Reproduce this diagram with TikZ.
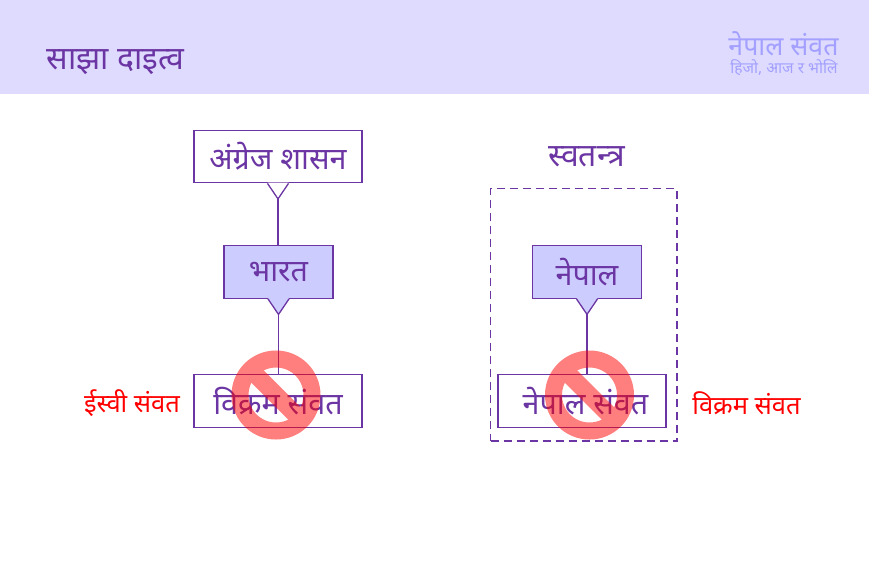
\documentclass[tikz,border=0pt]{standalone}
\usepackage{fontspec}
\newfontfamily\devfont[Script=Devanagari]{Noto Sans}
\definecolor{headbg}{HTML}{DEDBFF}
\definecolor{boxbg}{HTML}{CCCCFF}
\definecolor{inkpurple}{HTML}{6B35A3}
\definecolor{softblue}{HTML}{A3A0FF}
\tikzset{
  box/.style={draw=inkpurple, line width=1.3pt, minimum width=168pt, minimum height=52.5pt, inner sep=0pt, text=inkpurple, font=\devfont\fontsize{30.5}{30.5}\selectfont},
  smallbox/.style={box, fill=boxbg, minimum width=109pt},
  wire/.style={draw=inkpurple, line width=1.3pt},
  sidetext/.style={text=red, inner sep=0pt, font=\devfont\fontsize{25.5}{25.5}\selectfont},
  pics/nosign/.style={code={
    \begin{scope}[transparency group, opacity=.5]
      \draw[red, line width=17pt] (0,0) circle (36pt);
      \draw[red, line width=17.5pt] (-26,-26) -- (26,26);
    \end{scope}
  }}
}
\newcommand{\tail}[3]{% node, fill, apex name
  \coordinate (#3) at ([yshift=-15.5pt]#1.south);
  \fill[#2] ([xshift=-10.5pt,yshift=.8pt]#1.south) -- (#3) -- ([xshift=10.5pt,yshift=.8pt]#1.south) -- cycle;
  \draw[wire] ([xshift=-10.5pt]#1.south) -- (#3) -- ([xshift=10.5pt]#1.south);
}
\begin{document}
\begin{tikzpicture}[x=1pt,y=-1pt]
  \useasboundingbox (0,0) rectangle (869,579);
  \fill[white] (0,0) rectangle (869,579);
  \fill[headbg] (0,0) rectangle (869,94);

  \node (title) at (115.5,62) [text=inkpurple, inner sep=0pt, font=\devfont\fontsize{32}{32}\selectfont] {साझा दाइत्व};
  \node (brand) at (783.5,44) [text=softblue, inner sep=0pt, font=\devfont\fontsize{26.7}{26.7}\selectfont] {नेपाल संवत};
  \node (tagline) at (784,68) [text=softblue, inner sep=0pt, font=\devfont\fontsize{15.5}{15.5}\selectfont] {हिजो, आज र भोलि};

  % left column
  \node[box] (shasan) at (278,156.5) {अंग्रेज शासन};
  \node[smallbox] (bharat) at (278.5,272) {भारत\hspace{4pt}};
  \node[box] (bikram) at (278,401) {विक्रम संवत};
  \tail{shasan}{white}{shasantip}
  \tail{bharat}{boxbg}{bharattip}
  \draw[wire] (shasantip) -- (bharat.north -| shasantip);
  \draw[wire] (bharattip) -- (bikram.north -| bharattip);
  \node[sidetext] (isvi) at (132,403) {ईस्वी संवत};

  % right column
  \node (svatantra) at (587,157) [text=inkpurple, inner sep=0pt, font=\devfont\fontsize{32}{32}\selectfont] {स्वतन्त्र};
  \node (frame) at (583.75,314.75) [draw=inkpurple, line width=1.3pt, dash pattern=on 8pt off 5pt, minimum width=186.5pt, minimum height=252.5pt, inner sep=0pt] {};
  \node[smallbox] (nepal) at (587,272) {नेपाल};
  \node[box] (nsamvat) at (582,401) {\hspace{7pt}नेपाल संवत};
  \tail{nepal}{boxbg}{nepaltip}
  \draw[wire] (nepaltip) -- (nsamvat.north -| nepaltip);
  \node[sidetext] (vikram) at (746.5,403) {विक्रम संवत};

  \pic at (276,395) {nosign};
  \pic at (589.5,395) {nosign};
\end{tikzpicture}
\end{document}
